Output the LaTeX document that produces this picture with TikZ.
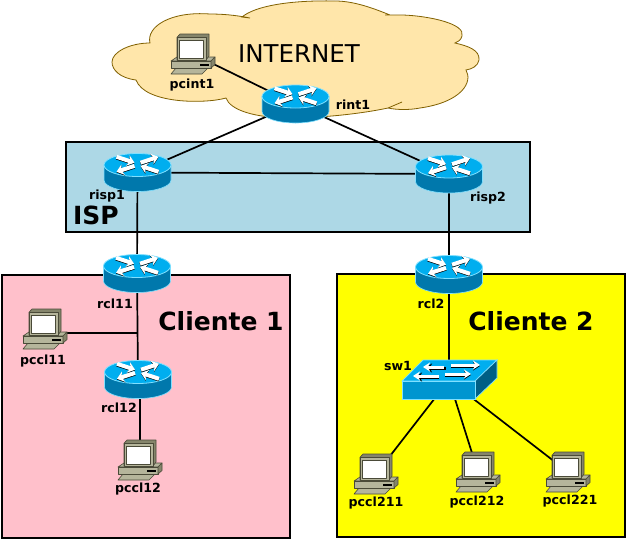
\documentclass[tikz,border=0pt]{standalone}
\usepackage{fontspec}
\setmainfont{DejaVu Sans}
\usetikzlibrary{arrows.meta}
\definecolor{cloudfill}{HTML}{FFE6AA}
\definecolor{cloudline}{HTML}{806000}
\definecolor{ispblue}{HTML}{ADD8E6}
\definecolor{clpink}{HTML}{FFC0CB}
\definecolor{clyellow}{RGB}{255,255,0}
\definecolor{ciscotop}{HTML}{00AEEF}
\definecolor{ciscoside}{HTML}{0078AC}
\definecolor{ciscoedge}{HTML}{80E0FF}
\definecolor{swfront}{HTML}{0095D0}
\definecolor{swside}{HTML}{005F85}
\definecolor{pcbody}{HTML}{B5B59B}
\definecolor{pcdark}{HTML}{85856B}
\definecolor{pcline}{HTML}{4A4A38}
\tikzset{
  anchorbox/.style={inner sep=0pt,minimum width=44pt,minimum height=30pt},
  link/.style={draw=black,line width=1.7pt},
  region/.style={draw=black,line width=1.6pt},
  lab/.style={font=\fontsize{12.6}{13}\selectfont\bfseries,inner sep=0pt,text=black,yshift=-1pt},
  biglab/.style={font=\fontsize{25}{25}\selectfont\bfseries,inner sep=0pt},
  wa/.style={white,line width=4pt,-{Stealth[length=7pt,width=11pt]}},
  ba/.style={black,line width=4pt,-{Stealth[length=7pt,width=11pt]}},
  wb/.style={white,line width=3pt},
  bb/.style={black,line width=3pt},
  tipe/.style={-{Stealth[length=7pt,width=9pt]}},
  tips/.style={{Stealth[length=7pt,width=9pt]}-},
  router/.pic={
    \path[fill=ciscoside,draw=ciscoedge,line width=.6pt] (-33.5,-7.5) -- (-33.5,7.5) arc[start angle=180,end angle=360,x radius=33.5,y radius=-11.5] -- (33.5,-7.5) -- cycle;
    \path[fill=ciscotop,draw=ciscoedge,line width=.8pt] (0,-7.5) ellipse[x radius=33.5,y radius=11.5];
    % two arrows running inwards, two outwards
    \draw[ba] (-21,-15) -- (-3,-9.1);
    \draw[wa] (-21,-15.7) -- (-3,-9.8);
    \draw[ba] (21,0) -- (3,-5.9);
    \draw[wa] (21,-.7) -- (3,-6.6);
    \draw[ba] (3,-9.1) -- (21,-15);
    \draw[wa] (3,-9.8) -- (21,-15.7);
    \draw[ba] (-3,-5.9) -- (-21,0);
    \draw[wa] (-3,-6.6) -- (-21,-.7);
  },
  swicon/.pic={
    \path[fill=ciscotop,draw=ciscoedge,line width=.7pt] (-47,1) -- (-26,-20) -- (48,-20) -- (26,1) -- cycle;
    \path[fill=swside,draw=ciscoedge,line width=.7pt] (26,1) -- (48,-20) -- (48,-2) -- (26,19) -- cycle;
    \path[fill=swfront,draw=ciscoedge,line width=.7pt] (-47,1) rectangle (26,19);
    \draw[bb,tips] (-24,-12) -- (-3,-12);
    \draw[wb,tips] (-26,-13) -- (-5,-13);
    \draw[bb,tipe] (2,-14) -- (31,-14);
    \draw[wb,tipe] (2,-15) -- (31,-15);
    \draw[bb,tips] (-34,-3) -- (-10,-3);
    \draw[wb,tips] (-36,-4) -- (-10,-4);
    \draw[bb,tipe] (-4,-5) -- (22,-5);
    \draw[wb,tipe] (-4,-6) -- (22,-6);
  },
  pcicon/.pic={
    % origin is the top left of the icon's box (45 x 40)
    \begin{scope}[line width=.6pt,line join=round]
    % keyboard
    \path[fill=pcbody,draw=pcline] (5,34) -- (37,34) -- (31,40) -- (0,40) -- cycle;
    % base
    \path[fill=pcbody,draw=pcline] (0,27) -- (6,23) -- (44,23) -- (40,27) -- cycle;
    \path[fill=pcbody,draw=pcline] (0,27) rectangle (40,34);
    \path[fill=pcdark,draw=pcline] (40,27) -- (44,23) -- (44,30.5) -- (40,34) -- cycle;
    \fill[black] (29,30) rectangle (38,32);
    % monitor
    \path[fill=pcdark,draw=pcline] (6,3.3) -- (9,0) -- (38,0) -- (38,22) -- (35,26) -- (6,26) -- cycle;
    \path[fill=pcbody,draw=pcline] (6,3.3) -- (35,3.3) -- (35,26) -- (6,26) -- cycle;
    \path[fill=white,draw=pcline,line width=.9pt] (8.7,6.5) rectangle (32.7,24.8);
    \end{scope}
  }
}
\begin{document}
\begin{tikzpicture}[x=1pt,y=-1pt]
\useasboundingbox (0,0) rectangle (626,539);
\fill[white] (0,0) rectangle (626,539);
% regions
\path[region,fill=ispblue] (66,142) rectangle (530,232);
\path[region,fill=clpink] (2,275) rectangle (290,538);
\path[region,fill=clyellow] (337,274) rectangle (625,537);
% cloud
\path[fill=cloudfill,draw=cloudline,line width=.8pt]
  (150,43) .. controls (146,27) and (170,11) .. (210,14)
  .. controls (222,14) and (235,15) .. (250,18)
  -- (242,17) .. controls (255,6) and (290,0) .. (335,1)
  .. controls (355,1) and (375,9) .. (390,15)
  -- (385,15) -- (403,15) .. controls (430,16) and (466,24) .. (462,36)
  .. controls (461,40) and (458,42) .. (455,43)
  .. controls (468,46) and (480,50) .. (479,60)
  .. controls (478,66) and (472,69) .. (466,70)
  .. controls (473,82) and (462,102) .. (420,108)
  .. controls (410,110) and (397,110) .. (388,108)
  -- (402,102) -- (388,108)
  .. controls (360,114) and (320,118) .. (290,118)
  .. controls (255,118) and (230,110) .. (226,98)
  .. controls (205,104) and (145,104) .. (136,80)
  .. controls (120,78) and (112,70) .. (112,62)
  .. controls (112,52) and (130,43) .. (150,43) -- cycle;
% anchors for the devices
\node[anchorbox] (pcint1) at (193,54) {};
\node[anchorbox] (rint1) at (295.5,104) {};
\node[anchorbox] (risp1) at (137.5,172.5) {};
\node[anchorbox] (risp2) at (449,174) {};
\node[anchorbox] (rcl11) at (137,273.5) {};
\node[anchorbox] (rcl2) at (449,274.5) {};
\node[anchorbox] (rcl12) at (138,379.5) {};
\node[anchorbox] (sw1) at (449,380) {};
\node[anchorbox] (pccl11) at (45,329) {};
\node[anchorbox] (pccl12) at (140,460) {};
\node[anchorbox] (pccl211) at (376,474) {};
\node[anchorbox] (pccl212) at (478,472) {};
\node[anchorbox] (pccl221) at (568,472) {};
\coordinate (junc) at (137,333);
% connectors
\draw[link] (pcint1.center) -- (rint1.center);
\draw[link] (rint1.center) -- (risp1.center);
\draw[link] (rint1.center) -- (risp2.center);
\draw[link] (risp1.center) -- (risp2.center);
\draw[link] (risp1.center) -- (rcl11.center);
\draw[link] (risp2.center) -- (rcl2.center);
\draw[link] (rcl11.center) -- (rcl12.center);
\draw[link] (junc) -- (junc -| pccl11.center);
\draw[link] (rcl12.center) -- (rcl12.center -| pccl12.center) -- (pccl12.center);
\draw[link] (rcl2.center) -- (sw1.center);
\draw[link] (sw1.center) -- (pccl211.center);
\draw[link] (sw1.center) -- (pccl212.center);
\draw[link] (sw1.center) -- (pccl221.center);
% icons
\foreach \n in {rint1,risp1,risp2,rcl11,rcl2,rcl12}{\pic at (\n) {router};}
\pic at (sw1) {swicon};
\pic at (171,34) {pcicon};
\pic at (23,309) {pcicon};
\pic at (118,440) {pcicon};
\pic at (354,454) {pcicon};
\pic at (456,452) {pcicon};
\pic at (546,452) {pcicon};
% labels
\node[lab] (lpcint1) at (192,84) {pcint1};
\node[lab] (lrint1) at (353,104) {rint1};
\node[lab] (lrisp1) at (107,195) {risp1};
\node[lab] (lrisp2) at (488,197) {risp2};
\node[lab] (lrcl11) at (115,303) {rcl11};
\node[lab] (lrcl2) at (431,303) {rcl2};
\node[lab] (lrcl12) at (119,407) {rcl12};
\node[lab] (lsw1) at (398,365) {sw1};
\node[lab] (lpccl11) at (43,360) {pccl11};
\node[lab] (lpccl12) at (138,488) {pccl12};
\node[lab] (lpccl211) at (376,502) {pccl211};
\node[lab] (lpccl212) at (477,501) {pccl212};
\node[lab] (lpccl221) at (570,500) {pccl221};
\node[font=\fontsize{24.5}{25}\selectfont,inner sep=0pt] (tinternet) at (299,54) {INTERNET};
\node[biglab] (tisp) at (96,215) {ISP};
\node[biglab] (tc1) at (221,321) {Cliente 1};
\node[biglab] (tc2) at (531,321) {Cliente 2};
\end{tikzpicture}
\end{document}
